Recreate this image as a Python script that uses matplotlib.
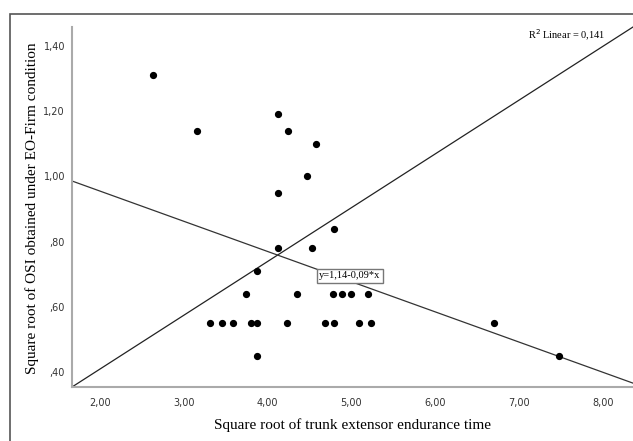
import numpy as np
import matplotlib
matplotlib.use("Agg")
import matplotlib.pyplot as plt
from matplotlib.patches import Rectangle

# trunk extensor endurance time (sqrt) vs OSI under EO-Firm (sqrt)
endurance = [2.63, 3.16, 4.12, 4.24, 4.58, 4.47, 4.12, 4.79, 4.12, 4.53,
             3.87, 3.74, 4.35, 4.78, 4.89, 5.00, 5.20,
             3.31, 3.46, 3.59, 3.80, 3.87, 4.23, 4.69, 4.79, 5.09, 5.23, 6.70,
             3.87, 7.48]
osi = [1.31, 1.14, 1.19, 1.14, 1.10, 1.00, 0.95, 0.84, 0.78, 0.78,
       0.71, 0.64, 0.64, 0.64, 0.64, 0.64, 0.64,
       0.55, 0.55, 0.55, 0.55, 0.55, 0.55, 0.55, 0.55, 0.55, 0.55, 0.55,
       0.45, 0.45]

# fit as reported on the chart
intercept = 1.14
slope = -0.0926
r2_text = "R$^2$ Linear = 0,141"
eq_text = "y=1,14-0,09*x"

x_ticks = [2, 3, 4, 5, 6, 7, 8]
y_ticks = [0.4, 0.6, 0.8, 1.0, 1.2, 1.4]
x_lim = (1.666, 8.36)
y_lim = (0.354, 1.458)


def comma(v):
    s = f"{v:.2f}".replace(".", ",")
    if s.startswith("0"):
        s = s[1:]
    return s


fig = plt.figure(figsize=(6.33, 4.41), dpi=100)
fig.patch.set_facecolor("white")

# outer frame
fig.patches.append(Rectangle((10 / 633, -0.1), 1.2, 0.1 + (441 - 14) / 441,
                             transform=fig.transFigure, fill=False,
                             edgecolor="#555555", linewidth=1.2))

ax = fig.add_axes([72 / 633, (441 - 387) / 441, 1 - 72 / 633, (387 - 27) / 441])
ax.set_xlim(*x_lim)
ax.set_ylim(*y_lim)

for side in ["top", "right"]:
    ax.spines[side].set_visible(False)
for side in ["left", "bottom"]:
    ax.spines[side].set_color("#aaaaaa")
    ax.spines[side].set_linewidth(1.5)

ax.set_xticks(x_ticks)
ax.set_yticks(y_ticks)
ax.set_xticklabels([comma(v) for v in x_ticks])
ax.set_yticklabels([comma(v) for v in y_ticks])
ax.tick_params(length=0, labelsize=7, labelcolor="#333333")
ax.tick_params(axis="x", pad=8)
ax.tick_params(axis="y", pad=5)

# reference diagonal
ax.plot([0, 1], [0, 1], transform=ax.transAxes, color="#222222", lw=0.9,
        clip_on=False)

# fitted line
xs = np.array(x_lim)
ax.plot(xs, intercept + slope * xs, color="#333333", lw=0.9)

ax.plot(endurance, osi, "o", color="black", markersize=4.2, zorder=3)

ax.text(605 / 633, 1 - 35 / 441, r2_text, transform=fig.transFigure,
        ha="right", va="center", fontsize=7.5, family="Liberation Serif")
ax.text(350 / 633, 1 - 276 / 441, eq_text, transform=fig.transFigure,
        ha="center", va="center", fontsize=7.5, family="Liberation Serif",
        bbox=dict(boxstyle="square,pad=0.2", facecolor="white",
                  edgecolor="#777777", linewidth=1))

fig.text(352 / 633, 1 - 425 / 441, "Square root of trunk extensor endurance time",
         ha="center", va="center", fontsize=11, family="Liberation Serif")
fig.text(32 / 633, 1 - 208 / 441,
         "Square root of OSI obtained under EO-Firm condition",
         ha="center", va="center", rotation=90, fontsize=11,
         family="Liberation Serif")

fig.savefig("out.png", dpi=100)
